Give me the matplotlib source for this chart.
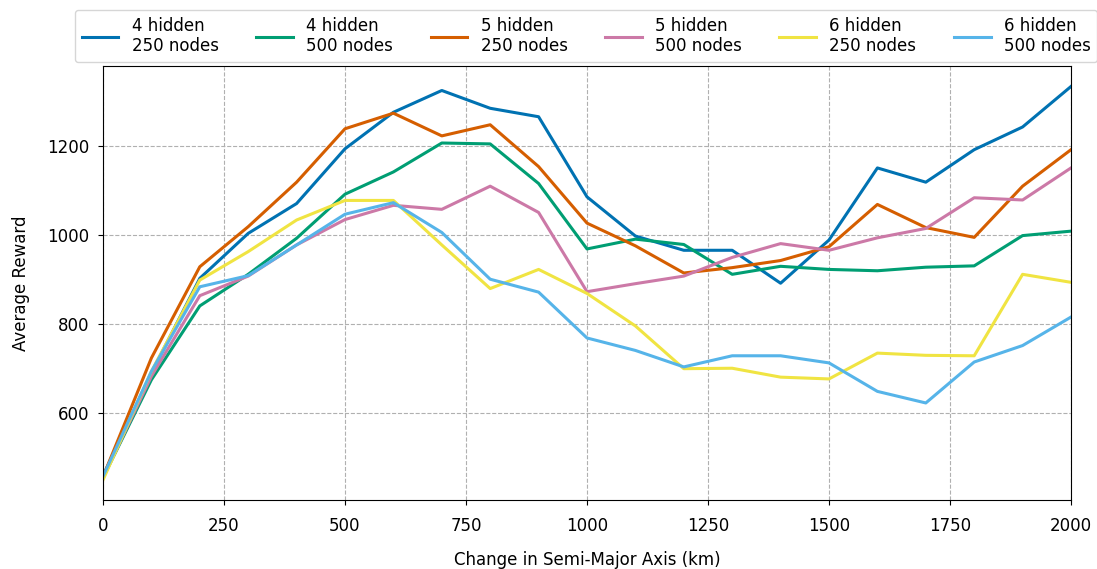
from matplotlib import pyplot as plt
import numpy as np

# change in semi-major axis (km)
delta_a = np.arange(0, 2001, 100)

reward_4h_250 = [459, 690, 903, 1004, 1071, 1194, 1276, 1325, 1285, 1266, 1086,
                 998, 966, 966, 892, 989, 1151, 1119, 1192, 1243, 1334]
reward_4h_500 = [455, 675, 841, 912, 993, 1092, 1142, 1207, 1205, 1116, 969,
                 991, 979, 912, 930, 923, 920, 928, 931, 999, 1009]
reward_5h_250 = [457, 724, 929, 1019, 1119, 1239, 1274, 1223, 1248, 1154, 1027,
                 976, 915, 927, 943, 974, 1069, 1017, 995, 1110, 1192]
reward_5h_500 = [455, 683, 864, 908, 978, 1035, 1067, 1058, 1110, 1051, 873,
                 891, 908, 950, 981, 966, 994, 1015, 1084, 1079, 1151]
reward_6h_250 = [450, 694, 899, 963, 1034, 1078, 1078, 978, 880, 923, 869,
                 796, 700, 701, 681, 677, 735, 730, 729, 912, 894]
reward_6h_500 = [458, 694, 884, 909, 978, 1047, 1073, 1006, 901, 872, 769,
                 741, 704, 729, 729, 713, 649, 623, 715, 752, 816]

labels = ['4 hidden\n250 nodes', '4 hidden\n500 nodes',
          '5 hidden\n250 nodes', '5 hidden\n500 nodes',
          '6 hidden\n250 nodes', '6 hidden\n500 nodes']
colors = ['#0072b2', '#009e73', '#d55e00', '#cc79a7', '#f0e442', '#56b4e9']


def main():
    plt.rcParams['font.family'] = 'DejaVu Sans'
    plt.rcParams['font.size'] = 12

    fig = plt.figure(figsize=(10.97, 5.69), dpi=100)
    ax = fig.add_axes([103 / 1097, 1 - 500 / 569, 968 / 1097, 434 / 569])

    series = [reward_4h_250, reward_4h_500, reward_5h_250,
              reward_5h_500, reward_6h_250, reward_6h_500]
    for values, label, color in zip(series, labels, colors):
        ax.plot(delta_a, values, color=color, linewidth=2.2, label=label)

    ax.set_xlim(0, 2000)
    ax.set_ylim(405, 1380)
    ax.set_xticks([0, 250, 500, 750, 1000, 1250, 1500, 1750, 2000])
    ax.set_yticks([600, 800, 1000, 1200])
    ax.tick_params(axis='x', pad=8.5)
    ax.tick_params(axis='y', pad=6.5)
    ax.grid(linestyle='--', color='#b0b0b0', linewidth=0.8)
    ax.set_xlabel('Change in Semi-Major Axis (km)', labelpad=11.5)
    ax.set_ylabel('Average Reward', labelpad=12)

    handles, lbls = ax.get_legend_handles_labels()
    fig.legend(handles, lbls, loc='upper left', ncol=6,
               bbox_to_anchor=(75 / 1097, 1 - 10 / 569),
               fontsize=12, columnspacing=2.25, handlelength=2.2,
               handletextpad=0.8, borderaxespad=0.0)

    fig.savefig('out.png', dpi=100)


if __name__ == "__main__":
    main()
